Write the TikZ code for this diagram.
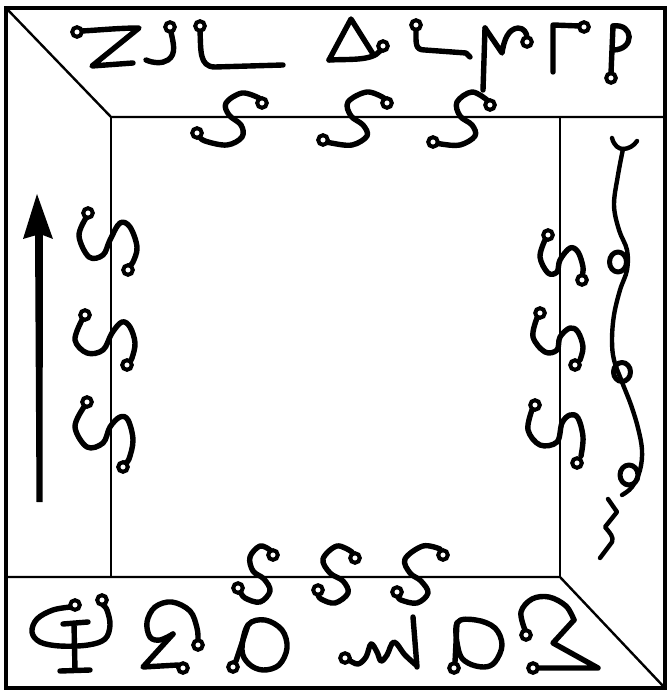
\documentclass[tikz,border=0pt]{standalone}
\begin{document}
\begin{tikzpicture}[x=1pt,y=-1pt,
  frame/.style={line width=4.5pt},
  inner/.style={line width=2.4pt},
  glyph/.style={line width=5.4pt,line cap=round,line join=round},
  wave/.style={line width=4.4pt,line cap=round,line join=round},
  ring/.style={line width=4pt,fill=white}]
\newcommand\ringdot[1]{\draw[ring] (#1) circle (4.8);}
\useasboundingbox (0,0) rectangle (671,692);
\fill[white] (0,0) rectangle (671,692);
% frame
\draw[frame] (6,8) rectangle (665,688);
\draw[inner] (7,9) -- (111,117) -- (665,117);
\draw[inner] (111,117) -- (111,577);
\draw[inner] (560,117) -- (560,577);
\draw[inner] (6,577) -- (560,577) -- (664,687);
% arrow
\fill (37,194) -- (53,239) -- (40,234) -- (23,239) -- cycle;
\fill (35,232) -- (43,232) -- (42.5,502) -- (36.5,502) -- cycle;
% ---- top band glyphs
\draw[glyph] (82,31) .. controls (100,30) and (120,28) .. (139,28) -- (92,66) -- (133,63);
\ringdot{77,32}
\draw[glyph] (171,32) .. controls (173,42) and (177,54) .. (168,60) .. controls (162,64) and (153,63) .. (146,60);
\ringdot{170,27}
\draw[glyph] (200,31) .. controls (201,50) and (199,67) .. (215,67) -- (283,65);
\ringdot{200,26}
\draw[glyph] (329,60) -- (351,19) -- (373,54);
\draw[glyph] (329,60) .. controls (350,59) and (372,61) .. (380,51);
\ringdot{383,46}
\draw[glyph] (416,30) .. controls (416,44) and (415,50) .. (425,50) -- (466,53) -- (470,57);
\ringdot{416,25}
\draw[glyph] (485,28) -- (483,90);
\draw[glyph] (485,28) -- (502,53) .. controls (504,40) and (508,29) .. (518,28) .. controls (524,28) and (527,33) .. (527,38);
\ringdot{527,42}
\draw[glyph] (553,72) -- (553,25) -- (580,26);
\ringdot{584,27}
\draw[glyph] (613,26) -- (611,73);
\draw[glyph] (613,26) .. controls (634,23) and (635,50) .. (613,50);
\ringdot{611,78}
% ---- top S glyphs
\draw[glyph] plot[smooth,tension=0.6] coordinates {(259,98) (242,93) (226,103) (229,115) (241,125) (242,137) (227,145) (205,141) (199,136)};
\ringdot{262,103}\ringdot{197,133}
\draw[glyph] plot[smooth,tension=0.6] coordinates {(384,98) (367,92) (348,102) (351,116) (363,125) (367,136) (352,145) (331,143) (325,141)};
\ringdot{387,103}\ringdot{323,140}
\draw[glyph] plot[smooth,tension=0.6] coordinates {(487,100) (472,92) (457,102) (460,116) (472,125) (475,136) (460,145) (441,144) (435,142)};
\ringdot{490,105}\ringdot{433,142}
% ---- bottom S glyphs
\draw[glyph] plot[smooth,tension=0.6] coordinates {(270,550) (260,546) (250,557) (253,571) (264,579) (270,591) (260,602) (245,598) (240,591)};
\ringdot{273,555}\ringdot{238,588}
\draw[glyph] plot[smooth,tension=0.6] coordinates {(352,552) (337,546) (323,559) (330,573) (343,581) (348,593) (335,603) (321,599) (318,594)};
\ringdot{355,558}\ringdot{318,590}
\draw[glyph] plot[smooth,tension=0.6] coordinates {(440,549) (423,546) (405,559) (410,573) (421,581) (428,593) (417,603) (401,600) (398,596)};
\ringdot{443,555}\ringdot{397,592}
% ---- left S glyphs
\draw[glyph] plot[smooth,tension=0.6] coordinates {(86,218) (79,236) (89,257) (103,255) (110,240) (120,223) (130,227) (137,247) (133,262) (129,266)};
\ringdot{88,213}\ringdot{128,270}
\draw[glyph] plot[smooth,tension=0.6] coordinates {(82,320) (75,340) (87,353) (103,350) (112,333) (122,322) (130,327) (135,343) (132,358) (129,362)};
\ringdot{85,315}\ringdot{127,365}
\draw[glyph] plot[smooth,tension=0.6] coordinates {(84,407) (75,427) (87,447) (103,443) (110,427) (120,417) (128,420) (133,440) (129,459) (125,463)};
\ringdot{87,402}\ringdot{123,467}
% ---- right S glyphs
\draw[glyph] plot[smooth,tension=0.6] coordinates {(545,240) (540,257) (548,273) (557,272) (560,260) (570,248) (578,252) (583,267) (582,276)};
\ringdot{548,235}\ringdot{582,280}
\draw[glyph] plot[smooth,tension=0.6] coordinates {(537,318) (533,337) (545,352) (557,350) (560,337) (570,328) (578,332) (583,347) (580,360)};
\ringdot{540,313}\ringdot{575,365}
\draw[glyph] plot[smooth,tension=0.6] coordinates {(532,410) (528,430) (540,445) (557,442) (562,423) (570,415) (578,418) (583,437) (581,456)};
\ringdot{535,405}\ringdot{577,463}
% ---- right wavy line
\draw[wave] (612,138) .. controls (614,146) and (619,149) .. (623,149) .. controls (628,149) and (634,146) .. (637,141);
\draw[wave] plot[smooth,tension=0.6] coordinates {(623,149) (618,175) (614,205) (619,230) (627,250) (627,270) (620,290) (614,315) (612,340) (614,360) (622,382) (631,405) (638,428) (642,450) (640,470) (632,487) (622,495)};
\draw[wave,line width=5pt] (618,262) ellipse (8.5 and 10);
\draw[wave,line width=5pt] (622,372) ellipse (8.5 and 9.5);
\draw[wave,line width=5pt] (629,475) ellipse (9 and 10);
\draw[wave] (608,499) -- (617,512) -- (605,527) .. controls (610,533) and (614,537) .. (612,542) -- (600,558);
% ---- bottom band glyphs
\draw[glyph] plot[smooth,tension=0.6] coordinates {(71,607) (53,610) (37,619) (32,632) (40,642) (60,646) (88,645) (105,639) (110,625) (107,610) (103,605)};
\ringdot{75,605}\ringdot{102,600}
\draw[glyph] (63,624) -- (88,622);
\draw[glyph] (74,624) -- (75,670);
\draw[glyph] (60,671) -- (90,670);
\draw[glyph] plot[smooth,tension=0.6] coordinates {(198,640) (197,628) (190,611) (172,602) (155,607) (147,622) (150,637) (160,640) (173,634)};
\draw[glyph] (173,634) -- (143,667) -- (178,665);
\ringdot{198,645}\ringdot{183,668}
\draw[glyph] (236,661) -- (248,625);
\draw[glyph] plot[smooth cycle,tension=0.6] coordinates {(248,625) (265,620) (282,630) (287,648) (279,665) (263,670) (249,664) (242,650)};
\ringdot{233,667}
\draw[glyph] plot[smooth,tension=0.6] coordinates {(349,660) (358,664) (366,657) (371,644) (377,652) (381,661) (387,655) (394,642) (405,655) (416,665)};
\draw[glyph] (413,617) -- (417,667);
\ringdot{345,658}
\draw[glyph] (455,662) -- (457,623);
\draw[glyph] plot[smooth cycle,tension=0.6] coordinates {(457,623) (476,620) (495,628) (502,645) (495,662) (484,667) (468,663) (459,652)};
\ringdot{454,668}
\draw[glyph] plot[smooth,tension=0.6] coordinates {(525,630) (521,612) (532,599) (549,597) (566,606) (574,620)};
\draw[glyph] (574,620) -- (553,643) -- (598,668) -- (538,668);
\ringdot{526,635}\ringdot{533,668}
\end{tikzpicture}
\end{document}
